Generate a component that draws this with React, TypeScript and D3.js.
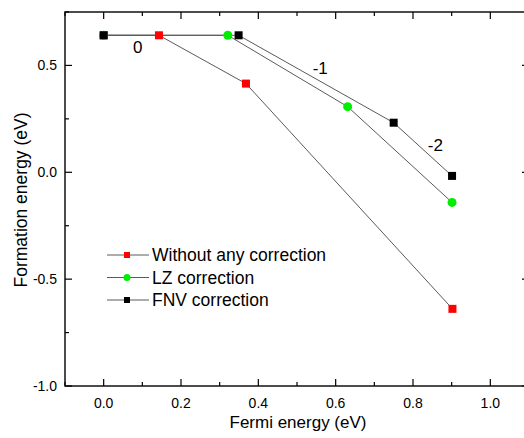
import React from "react";
import * as d3 from "d3";

const W = 524;
const H = 438;

const xTicks = [0.0, 0.2, 0.4, 0.6, 0.8, 1.0];
const yTicks = [-1.0, -0.5, 0.0, 0.5];
const xMinor = [-0.1, 0.1, 0.3, 0.5, 0.7, 0.9, 1.1];
const yMinor = [-0.75, -0.25, 0.25, 0.75];

const noCorrX = [0, 0.143, 0.368, 0.902];
const noCorrY = [0.641, 0.641, 0.415, -0.639];
const lzX = [0, 0.321, 0.631, 0.901];
const lzY = [0.641, 0.641, 0.307, -0.141];
const fnvX = [0, 0.349, 0.75, 0.901];
const fnvY = [0.641, 0.641, 0.232, -0.017];

const chargeLabels = ["0", "-1", "-2"];
const chargeX = [0.088, 0.56, 0.858];
const chargeY = [0.58, 0.48, 0.12];

const seriesNames = ["Without any correction", "LZ correction", "FNV correction"];
const seriesColors = ["#ff0000", "#00ee00", "#000000"];
const seriesShapes = ["square", "circle", "square"];

const margin = { left: 65, top: 12, right: 529, bottom: 386 };

export default function App() {
  const x = d3.scaleLinear().domain([-0.1, 1.1]).range([margin.left, margin.right]);
  const y = d3.scaleLinear().domain([-1.0, 0.75]).range([margin.bottom, margin.top]);
  const line = d3
    .line<[number, number]>()
    .x((d) => x(d[0]))
    .y((d) => y(d[1]));

  const series = [
    { xs: noCorrX, ys: noCorrY },
    { xs: lzX, ys: lzY },
    { xs: fnvX, ys: fnvY },
  ];

  const font = "Arial, 'Liberation Sans', sans-serif";
  const lineColor = "#5a5a5a";

  const marker = (cx: number, cy: number, i: number, size: number, key: string) =>
    seriesShapes[i] === "circle" ? (
      <circle key={key} cx={cx} cy={cy} r={size / 2 + 0.5} fill={seriesColors[i]} />
    ) : (
      <rect key={key} x={cx - size / 2} y={cy - size / 2} width={size} height={size} fill={seriesColors[i]} />
    );

  return (
    <svg
      width={W}
      height={H}
      style={{ position: "absolute", left: 0, top: 0, background: "#fff" }}
      fontFamily={font}
    >
      {series.map((s, i) => (
        <path
          key={"l" + i}
          d={line(s.xs.map((v, j) => [v, s.ys[j]] as [number, number])) || ""}
          fill="none"
          stroke={lineColor}
          strokeWidth={1}
        />
      ))}
      {series.map((s, i) => s.xs.map((v, j) => marker(x(v), y(s.ys[j]), i, 8, `m${i}-${j}`)))}

      {chargeLabels.map((t, i) => (
        <text key={"c" + i} x={x(chargeX[i])} y={y(chargeY[i])} fontSize={17} textAnchor="middle" dominantBaseline="middle" fill="#000">
          {t}
        </text>
      ))}

      <rect
        x={margin.left}
        y={margin.top}
        width={margin.right - margin.left}
        height={margin.bottom - margin.top}
        fill="none"
        stroke="#000"
        strokeWidth={1.4}
      />
      {xTicks.map((t) => (
        <g key={"xt" + t}>
          <line x1={x(t)} x2={x(t)} y1={margin.bottom} y2={margin.bottom - 7} stroke="#000" strokeWidth={1.2} />
          <line x1={x(t)} x2={x(t)} y1={margin.top} y2={margin.top + 7} stroke="#000" strokeWidth={1.2} />
          <text x={x(t)} y={408} fontSize={14} textAnchor="middle" fill="#000">
            {d3.format(".1f")(t)}
          </text>
        </g>
      ))}
      {xMinor.map((t) => (
        <g key={"xm" + t}>
          <line x1={x(t)} x2={x(t)} y1={margin.bottom} y2={margin.bottom - 4} stroke="#000" strokeWidth={1.2} />
          <line x1={x(t)} x2={x(t)} y1={margin.top} y2={margin.top + 4} stroke="#000" strokeWidth={1.2} />
        </g>
      ))}
      {yTicks.map((t) => (
        <g key={"yt" + t}>
          <line x1={margin.left} x2={margin.left + 7} y1={y(t)} y2={y(t)} stroke="#000" strokeWidth={1.2} />
          <line x1={margin.right} x2={margin.right - 7} y1={y(t)} y2={y(t)} stroke="#000" strokeWidth={1.2} />
          <text x={57} y={y(t) + 5} fontSize={14} textAnchor="end" fill="#000">
            {d3.format(".1f")(t).replace("−", "-")}
          </text>
        </g>
      ))}
      {yMinor.map((t) => (
        <g key={"ym" + t}>
          <line x1={margin.left} x2={margin.left + 4} y1={y(t)} y2={y(t)} stroke="#000" strokeWidth={1.2} />
          <line x1={margin.right} x2={margin.right - 4} y1={y(t)} y2={y(t)} stroke="#000" strokeWidth={1.2} />
        </g>
      ))}

      <text x={298} y={428} fontSize={17} textAnchor="middle" fill="#000">
        Fermi energy (eV)
      </text>
      <text transform="translate(27,200) rotate(-90)" fontSize={17.5} textAnchor="middle" fill="#000">
        Formation energy (eV)
      </text>

      {seriesNames.map((n, i) => {
        const cy = 255 + i * 22.5;
        return (
          <g key={"lg" + i}>
            <line x1={107} x2={149} y1={cy} y2={cy} stroke={lineColor} strokeWidth={1} />
            {marker(127, cy, i, 6, "lm" + i)}
            <text x={152} y={cy + 6} fontSize={17.5} fill="#000">
              {n}
            </text>
          </g>
        );
      })}
    </svg>
  );
}
